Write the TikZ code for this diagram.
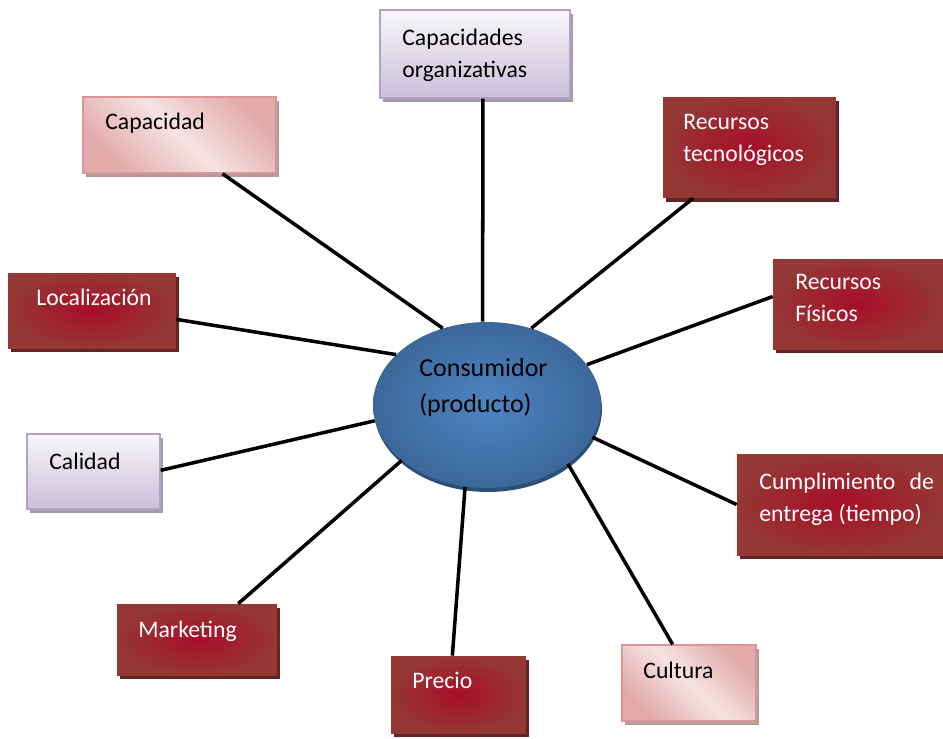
\documentclass[tikz,border=0pt]{standalone}
\usepackage{fontspec}
\setmainfont{Carlito}
\usetikzlibrary{shapes.geometric,shadows}

\definecolor{vino}{HTML}{953735}
\definecolor{vinoclaro}{HTML}{A80E27}
\definecolor{vinosombra}{HTML}{632523}
\definecolor{rosa}{HTML}{E2AAA9}
\definecolor{rosaclaro}{HTML}{F5E4E3}
\definecolor{rosaborde}{HTML}{D99694}
\definecolor{rosasombra}{HTML}{B59C9C}
\definecolor{lila}{HTML}{CBBFDA}
\definecolor{lilaclaro}{HTML}{F8F6FA}
\definecolor{lilaborde}{HTML}{B3A2C7}
\definecolor{lilasombra}{HTML}{A39DAB}
\definecolor{azul}{HTML}{3B6899}
\definecolor{azulclaro}{HTML}{4E84C3}
\definecolor{azulsombra}{HTML}{2C4F78}

\tikzset{
  caja/.style={rectangle, inner sep=0pt},
  rojo/.style={caja, shade, shading=radial, inner color=vinoclaro, outer color=vino,
    drop shadow={shadow xshift=0.06cm, shadow yshift=-0.08cm, fill=vinosombra, opacity=1}},
  rosado/.style={caja, draw=rosaborde, line width=0.8pt, top color=rosa, bottom color=rosa,
    middle color=rosaclaro, shading angle=-45,
    drop shadow={shadow xshift=0.06cm, shadow yshift=-0.08cm, fill=rosasombra, opacity=1}},
  lila/.style={caja, draw=lilaborde, line width=0.8pt, top color=lilaclaro, bottom color=lila,
    drop shadow={shadow xshift=0.06cm, shadow yshift=-0.08cm, fill=lilasombra, opacity=1}},
  % base west = baseline of the last line
  texto/.style={anchor=base west, inner sep=0pt, align=left, font=\fontsize{13.5}{18}\selectfont},
  blanco/.style={texto, text=white},
  enlace/.style={line width=2pt}
}

\begin{document}
\begin{tikzpicture}[x=0.02cm,y=-0.02cm]
	\useasboundingbox (0,0) rectangle (943,738);

	% centro
	\node[ellipse, inner sep=0pt, fill=azulsombra, minimum width=4.56cm, minimum height=3.32cm] (cons-s) at (488,409) {};
	\node[ellipse, inner sep=0pt, shade, shading=radial, inner color=azulclaro, outer color=azul,
		minimum width=4.56cm, minimum height=3.32cm] (cons) at (487,405) {};
	\node[texto, font=\fontsize{14.8}{20.4}\selectfont] (cons-t) at (419,412) {Consumidor\\(producto)};

	% cajas
	\node[lila, minimum width=3.8cm, minimum height=1.76cm] (orga) at (475,54) {};
	\node[rosado, minimum width=3.86cm, minimum height=1.52cm] (capa) at (179.5,135) {};
	\node[rojo, minimum width=3.46cm, minimum height=2.02cm] (rtec) at (749.5,147.5) {};
	\node[rojo, minimum width=3.36cm, minimum height=1.5cm] (loca) at (92,310.5) {};
	\node[rojo, minimum width=3.4cm, minimum height=1.8cm] (rfis) at (858,304) {};
	\node[lila, minimum width=2.66cm, minimum height=1.5cm] (cali) at (93.5,471.5) {};
	\node[rojo, minimum width=4.12cm, minimum height=2.02cm] (cump) at (840,504.5) {};
	\node[rojo, minimum width=3.2cm, minimum height=1.42cm] (mark) at (197,639.5) {};
	\node[rojo, minimum width=2.7cm, minimum height=1.54cm] (prec) at (458.5,694.5) {};
	\node[rosado, minimum width=2.68cm, minimum height=1.52cm] (cult) at (689,683) {};

	\node[texto] (orga-t) at (402,77) {Capacidades\\organizativas};
	\node[texto] (capa-t) at (105,129) {Capacidad};
	\node[blanco] (rtec-t) at (683,161) {Recursos\\tecnológicos};
	\node[blanco] (loca-t) at (36,305) {Localización};
	\node[blanco] (rfis-t) at (795,321) {Recursos\\Físicos};
	\node[texto] (cali-t) at (49,469) {Calidad};
	\node[blanco] (cump-t) at (759,521) {Cumplimiento\hspace{0.6em}de\\entrega (tiempo)};
	\node[blanco] (mark-t) at (138,637) {Marketing};
	\node[blanco] (prec-t) at (412,688) {Precio};
	\node[texto] (cult-t) at (643,678) {Cultura};

	% enlaces
	\draw[enlace] (orga.-80) -- (cons.93);
	\draw[enlace] (capa.-42) -- (cons.120);
	\draw[enlace] (rtec.222) -- (cons.60);
	\draw[enlace] (loca.-6) -- (cons.151);
	\draw[enlace] (rfis.175) -- (cons.22);
	\draw[enlace] (cali.1) -- (cons.188);
	\draw[enlace] (cump.west) -- (cons.343);
	\draw[enlace] (mark.41) -- (cons.213);
	\draw[enlace] (prec.99) -- (cons.255);
	\draw[enlace] (cult.113) -- (cons.324);

\end{tikzpicture}
\end{document}
